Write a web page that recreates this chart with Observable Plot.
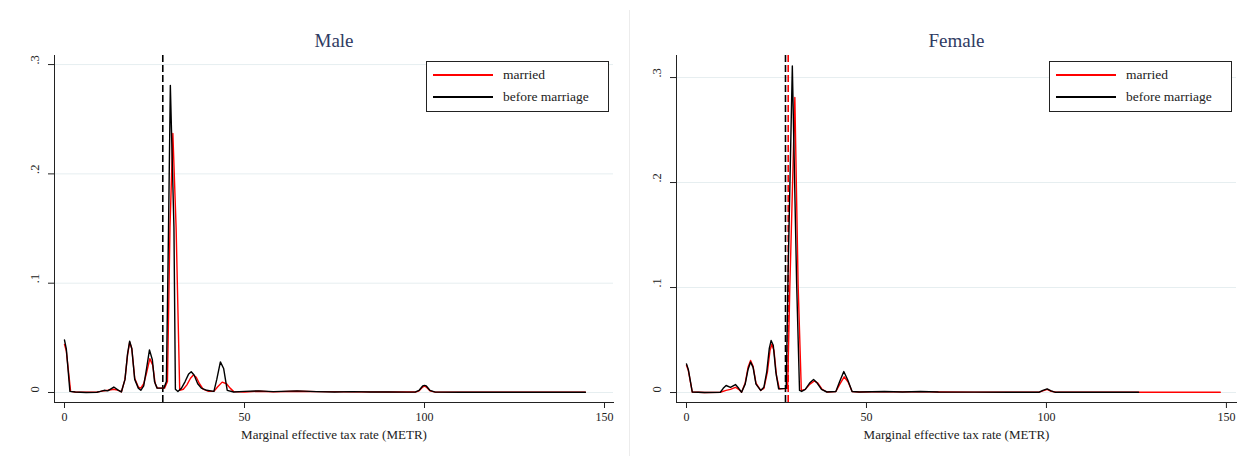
<!DOCTYPE html>
<html>
<head>
<meta charset="utf-8">
<script src="https://cdn.jsdelivr.net/npm/d3@7"></script>
<script src="https://cdn.jsdelivr.net/npm/@observablehq/plot@0.6"></script>
<style>
  html, body { margin: 0; padding: 0; background: #fff; }
  #root { position: relative; width: 1249px; height: 459px; background: #fff; overflow: hidden; font-family: "Liberation Serif", "DejaVu Serif", serif; }
  .panel { position: absolute; top: 0; }
  .legend { position: absolute; border: 1px solid #222; background: #fff; box-sizing: border-box; font-size: 13.5px; color: #222; }
  .legend .row { position: absolute; left: 6px; height: 16px; display: flex; align-items: center; white-space: nowrap; }
  .legend .sw { width: 60px; height: 1.5px; margin-right: 10px; }
  .divider { position: absolute; left: 629px; top: 10px; width: 1px; height: 446px; background: #ececec; }
</style>
</head>
<body>
<div id="root"></div>
<script>
// ---------- data ----------
const seriesNames = ["married", "before marriage"];
const seriesColors = ["#ff0000", "#000000"];
const xTicks = [0, 50, 100, 150];
const yTicks = [0, 0.1, 0.2, 0.3];
const yTickLabels = ["0", ".1", ".2", ".3"];
const xLabel = "Marginal effective tax rate (METR)";

// Male: [METR, density]
const maleMarried = [[0,0.044],[0.5,0.038],[1.7,0.001],[3,0.0004],[6,0.0002],[9,0.0003],[10,0.001],[12,0.002],[13.7,0.003],[15,0.002],[15.8,0.0005],[16.8,0.012],[17.5,0.034],[18.1,0.046],[18.7,0.040],[19.5,0.013],[20.5,0.005],[21.2,0.004],[22,0.008],[22.8,0.018],[23.7,0.031],[24.5,0.025],[25.2,0.008],[25.8,0.004],[27.8,0.004],[28.6,0.010],[29.3,0.151],[30.1,0.237],[31.0,0.151],[32.0,0.002],[33,0.003],[34,0.007],[35,0.013],[35.8,0.016],[36.6,0.014],[37.5,0.008],[38.5,0.003],[40,0.001],[41.5,0.001],[42.5,0.005],[43.8,0.0095],[45,0.008],[46,0.004],[47,0.0008],[50,0.0005],[54,0.0012],[58,0.0006],[64.6,0.0012],[70,0.0008],[80,0.0006],[90,0.0004],[97.5,0.0004],[98.5,0.0015],[99.5,0.005],[100,0.0058],[100.5,0.005],[101.5,0.0015],[103,0.0003],[120,0.0002],[144.7,0.0002]];
const maleBefore = [[0,0.048],[0.5,0.040],[1.5,0.001],[3,0.0005],[6,0],[9,0.0002],[10,0.001],[11,0.002],[12,0.0015],[13.7,0.005],[15,0.002],[15.8,0.0005],[16.8,0.012],[17.5,0.035],[18.1,0.047],[18.7,0.040],[19.5,0.012],[20.5,0.004],[21.2,0.002],[22,0.006],[22.8,0.022],[23.6,0.039],[24.4,0.030],[25,0.010],[25.7,0.004],[27.6,0.004],[28.3,0.010],[28.9,0.151],[29.4,0.281],[30.4,0.151],[30.8,0.003],[31.5,0.001],[32.5,0.004],[33.5,0.010],[34.5,0.017],[35.2,0.019],[36,0.016],[37,0.008],[38,0.004],[39.5,0.002],[41.5,0.001],[42.3,0.012],[43.3,0.028],[44.2,0.022],[45.2,0.002],[47,0.0005],[50,0.001],[54,0.0015],[58,0.0008],[64.6,0.0015],[70,0.0008],[75,0.0005],[80,0.0008],[85,0.0005],[90,0.0004],[95,0.0003],[97.5,0.0005],[98.5,0.002],[99.5,0.006],[100,0.0065],[100.5,0.006],[101.5,0.002],[103,0.0003],[110,0.0002],[120,0.0002],[130,0.0002],[140,0.0002],[144.7,0.0002]];
const maleCutoffs = [27.3];          // before marriage (black dashed)

// Female: [METR, density]
const femaleMarried = [[0,0.026],[0.5,0.021],[1.6,0.0005],[5,0],[9.4,0.0003],[11,0.002],[12.2,0.003],[13.6,0.005],[14.5,0.003],[15.3,0.0003],[16.3,0.009],[17.1,0.024],[17.8,0.0305],[18.5,0.025],[19.3,0.009],[20.6,0.002],[21.5,0.004],[22.5,0.020],[23.2,0.040],[23.7,0.046],[24.3,0.040],[25,0.016],[25.8,0.0035],[28.1,0.004],[28.7,0.10],[30.1,0.281],[31.0,0.1035],[31.9,0.002],[33,0.003],[34.3,0.008],[35.5,0.011],[36.5,0.009],[37.7,0.003],[39,0.0005],[41.5,0.001],[42.6,0.008],[43.8,0.015],[44.9,0.010],[46,0.001],[48,0.0005],[55,0.0009],[60,0.0006],[65,0.0009],[70,0.0005],[80,0.0004],[90,0.0003],[98,0.0003],[99,0.0015],[100.2,0.003],[101.3,0.0012],[103,0.0002],[148.3,0.0002]];
const femaleBefore = [[0,0.0273],[0.5,0.022],[1.6,0.0005],[5,0],[9.4,0.0003],[10.2,0.004],[11,0.0067],[12.2,0.005],[13.6,0.0076],[14.5,0.004],[15.3,0.0003],[16.3,0.008],[17.1,0.022],[17.8,0.029],[18.5,0.024],[19.3,0.008],[20.6,0.002],[21.5,0.005],[22.3,0.020],[23.0,0.042],[23.5,0.0495],[24.1,0.045],[24.8,0.020],[25.6,0.0035],[27.7,0.004],[28.2,0.11],[29.4,0.311],[30.6,0.1035],[31.4,0.002],[32,0.001],[33,0.003],[34.2,0.009],[35.3,0.0124],[36.3,0.009],[37.5,0.003],[39,0.0005],[41.5,0.001],[42.5,0.010],[43.7,0.020],[44.8,0.012],[46,0.001],[48,0.0005],[55,0.001],[60,0.0005],[65,0.001],[70,0.0005],[80,0.0004],[90,0.0003],[98,0.0003],[99,0.002],[100.2,0.0035],[101.3,0.0015],[102.5,0.0002],[125.6,0.0002]];
const femaleCutoffBefore = [27.5];   // black dashed
const femaleCutoffMarried = [28.25]; // red dashed

// ---------- drawing ----------
const FONT = "Liberation Serif, DejaVu Serif, serif";
const TITLE_COLOR = "#2f3b63";
const GRID = "#e6eef0";

function panel({title, married, before, cutoffs, left, width, marginLeft, marginRight, yDomain, xDomain}) {
  const rows = [
    ...married.map(([x, y]) => ({x, y, s: seriesNames[0]})),
    ...before.map(([x, y]) => ({x, y, s: seriesNames[1]}))
  ];
  const svg = Plot.plot({
    width, height: 459,
    marginLeft, marginRight, marginTop: 55, marginBottom: 57,
    x: {domain: xDomain},
    y: {domain: yDomain},
    color: {domain: seriesNames, range: seriesColors},
    style: {fontFamily: FONT, fontSize: "12px", background: "transparent", color: "#222"},
    marks: [
      Plot.ruleY(yTicks, {stroke: GRID, strokeWidth: 1}),
      Plot.axisX({ticks: xTicks, tickSize: 6, tickPadding: 4, tickFormat: d => String(d), label: null, fontSize: 12}),
      Plot.axisY({ticks: yTicks, tickSize: 6, tickFormat: () => "", label: null}),
      Plot.text(yTicks, {y: d => d, text: (d, i) => yTickLabels[i], frameAnchor: "left", dx: -20, rotate: -90, fontSize: 12.5, fill: "#222"}),
      Plot.text([xLabel], {text: d => d, frameAnchor: "bottom", dy: 36, fontSize: 13, fill: "#222"}),
      Plot.text([title], {text: d => d, frameAnchor: "top", dy: -22, fontSize: 19, fill: TITLE_COLOR}),
      Plot.frame({anchor: "left", stroke: "#222"}),
      Plot.frame({anchor: "bottom", stroke: "#222"}),
      ...cutoffs.map(c => Plot.ruleX(c.values, {stroke: c.color, strokeWidth: 1.6, strokeDasharray: "7,3"})),
      Plot.line(rows, {x: "x", y: "y", z: "s", stroke: "s", strokeWidth: 1.4})
    ]
  });
  const wrap = document.createElement("div");
  wrap.className = "panel";
  wrap.style.left = left + "px";
  wrap.appendChild(svg);
  return wrap;
}

function legend(left, top) {
  const div = document.createElement("div");
  div.className = "legend";
  div.style.left = left + "px";
  div.style.top = top + "px";
  div.style.width = "183px";
  div.style.height = "51px";
  seriesNames.forEach((name, i) => {
    const row = document.createElement("div");
    row.className = "row";
    row.style.top = (5 + i * 22) + "px";
    const sw = document.createElement("div");
    sw.className = "sw";
    sw.style.background = seriesColors[i];
    const t = document.createElement("span");
    t.textContent = name;
    row.appendChild(sw);
    row.appendChild(t);
    div.appendChild(row);
  });
  return div;
}

const root = document.getElementById("root");
root.appendChild(panel({
  title: "Male", married: maleMarried, before: maleBefore,
  cutoffs: [{values: maleCutoffs, color: "#000"}],
  left: 0, width: 624, marginLeft: 54, marginRight: 11,
  yDomain: [-0.00915, 0.3083], xDomain: [-2.78, 152.5]
}));
root.appendChild(panel({
  title: "Female", married: femaleMarried, before: femaleBefore,
  cutoffs: [{values: femaleCutoffBefore, color: "#000"}, {values: femaleCutoffMarried, color: "#ff0000"}],
  left: 625, width: 624, marginLeft: 51, marginRight: 13,
  yDomain: [-0.0095, 0.321], xDomain: [-2.78, 152.8]
}));
const dv = document.createElement("div");
dv.className = "divider";
root.appendChild(dv);
root.appendChild(legend(426, 61));
root.appendChild(legend(1049, 61));
</script>
</body>
</html>
